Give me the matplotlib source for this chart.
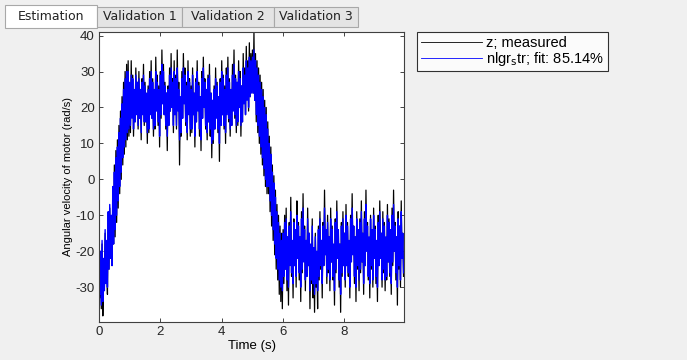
import matplotlib
matplotlib.use("Agg")
import matplotlib.pyplot as plt
from matplotlib.patches import Rectangle
from matplotlib.lines import Line2D
import numpy as np

dt = 0.025
z_measured = [
    -20, -33, -24, -36, -18, -38, -26, -30, -15, -28, -22, -32, -10, -25, -8, -20, -14, -24, -6, -18,
    4, -16, 8, -12, 11, -8, 15, -4, 19, 0, 23, 4, 27, 7, 30, 9, 32, 11, 33, 12,
    26, 13, 33, 18, 29, 12, 24, 16, 31, 20, 27, 14, 30, 17, 25, 11, 28, 19, 32, 15,
    27, 16, 23, 10, 26, 13, 30, 19, 33, 17, 28, 12, 25, 14, 34, 21, 29, 15, 26, 9,
    30, 17, 36, 22, 32, 18, 27, 14, 24, 8, 26, 15, 31, 19, 35, 20, 28, 13, 33, 18,
    29, 14, 36, 20, 27, 4, 22, 12, 30, 17, 35, 22, 31, 15, 27, 11, 33, 19, 28, 12,
    26, 13, 31, 18, 24, 9, 28, 16, 33, 20, 27, 12, 23, 8, 30, 17, 34, 21, 28, 14,
    25, 11, 29, 16, 32, 12, 24, 6, 21, 10, 26, 14, 31, 18, 27, 13, 23, 5, 28, 15,
    33, 18, 29, 14, 26, 10, 31, 19, 34, 16, 28, 12, 25, 15, 32, 20, 36, 17, 29, 13,
    27, 15, 33, 21, 30, 12, 26, 16, 35, 22, 31, 18, 37, 24, 33, 19, 38, 23, 35, 26,
    36, 24, 41, 22, 35, 16, 33, 13, 31, 10, 29, 7, 27, 4, 25, 1, 22, -2, 20, -4,
    16, -4, 12, -9, 9, -13, 4, -17, 1, -21, -3, -25, -7, -28, -10, -32, -13, -34, -15, -36,
    -14, -29, -10, -25, -8, -31, -16, -35, -12, -22, -5, -27, -18, -33, -11, -24, -14, -30, -6, -21,
    -12, -28, -16, -34, -9, -26, -4, -22, -13, -31, -17, -27, -8, -24, -15, -36, -19, -29, -11, -33,
    -20, -37, -15, -30, -22, -36, -13, -28, -9, -25, -17, -33, -12, -24, -3, -20, -14, -29, -10, -26,
    -16, -31, -8, -23, -13, -28, -19, -35, -11, -26, -6, -22, -14, -30, -18, -37, -12, -27, -9, -24,
    -15, -30, -7, -24, -12, -27, -18, -33, -10, -22, -4, -20, -13, -29, -16, -34, -9, -25, -14, -31,
    -11, -26, -6, -23, -15, -32, -9, -24, -3, -19, -12, -28, -17, -33, -10, -25, -14, -30, -8, -22,
    -13, -29, -18, -34, -10, -24, -6, -21, -15, -30, -9, -26, -12, -31, -17, -28, -7, -23, -11, -27,
    -14, -32, -8, -24, -3, -20, -12, -28, -16, -35, -9, -25, -13, -30, -6, -22, -15, -27,
]
nlgr_str = [
    -16, -32, -20, -35, -17, -34, -22, -31, -14, -29, -17, -30, -9, -25, -7, -22, -10, -24, -2, -18,
    2, -14, 6, -10, 9, -6, 13, -2, 17, 2, 21, 6, 25, 9, 28, 11, 30, 13, 30, 14,
    27, 15, 29, 17, 28, 14, 25, 16, 29, 18, 27, 15, 28, 17, 25, 13, 27, 18, 29, 16,
    26, 16, 24, 13, 25, 14, 28, 18, 30, 17, 27, 14, 25, 15, 30, 19, 27, 16, 25, 12,
    29, 18, 32, 21, 30, 18, 26, 15, 24, 12, 25, 15, 29, 19, 31, 20, 27, 15, 30, 18,
    28, 15, 31, 19, 25, 11, 23, 13, 28, 17, 31, 21, 29, 16, 26, 13, 30, 18, 27, 14,
    25, 14, 29, 18, 24, 12, 27, 16, 30, 19, 26, 14, 23, 11, 28, 17, 31, 20, 27, 15,
    25, 13, 28, 16, 29, 14, 24, 10, 22, 11, 25, 14, 28, 17, 26, 14, 23, 10, 27, 15,
    30, 18, 28, 15, 25, 13, 29, 18, 31, 17, 27, 14, 25, 15, 29, 19, 32, 18, 28, 15,
    27, 16, 30, 20, 28, 15, 26, 16, 31, 21, 29, 18, 33, 22, 31, 20, 34, 23, 33, 24,
    34, 24, 36, 22, 33, 18, 31, 15, 29, 12, 27, 9, 25, 6, 23, 3, 20, 0, 18, -2,
    14, -2, 10, -6, 7, -10, 2, -14, -1, -18, -5, -22, -9, -25, -12, -28, -15, -30, -17, -31,
    -15, -27, -12, -25, -11, -28, -16, -30, -13, -24, -9, -26, -17, -29, -12, -24, -14, -27, -10, -22,
    -13, -26, -16, -30, -11, -25, -8, -23, -14, -28, -17, -27, -11, -24, -15, -31, -18, -28, -13, -29,
    -19, -32, -16, -29, -20, -31, -14, -27, -11, -24, -17, -29, -13, -24, -8, -21, -14, -27, -12, -25,
    -16, -28, -11, -23, -14, -27, -18, -31, -12, -25, -9, -22, -14, -28, -18, -32, -13, -26, -11, -24,
    -15, -28, -10, -24, -13, -26, -17, -30, -11, -23, -8, -21, -13, -27, -16, -30, -11, -24, -14, -28,
    -12, -25, -9, -23, -15, -29, -11, -24, -7, -20, -13, -27, -16, -29, -11, -24, -14, -28, -10, -22,
    -14, -27, -17, -30, -12, -24, -9, -22, -15, -28, -11, -25, -13, -28, -16, -27, -10, -23, -12, -26,
    -14, -29, -10, -23, -7, -20, -13, -26, -16, -30, -11, -24, -13, -28, -9, -22, -15, -26,
]
tab_names = ["Estimation", "Validation 1", "Validation 2", "Validation 3"]
legend_labels = ["z; measured", r"nlgr$_{\mathrm{s}}$tr; fit: 85.14%"]
x_ticks = [0, 2, 4, 6, 8]
y_ticks = [-30, -20, -10, 0, 10, 20, 30, 40]

plt.rcParams["font.family"] = ["Liberation Sans", "DejaVu Sans"]
plt.rcParams["axes.unicode_minus"] = False

W, H = 687, 360
fig = plt.figure(figsize=(W / 100, H / 100), dpi=100, facecolor="#f0f0f0")

# tab strip at the top
tab_boxes = [(5, 97), (97, 182), (182, 274), (274, 358)]
for k, (name, (x0, x1)) in enumerate(zip(tab_names, tab_boxes)):
    if k == 0:
        y0, y1, fc = 5, 28, "white"
    else:
        y0, y1, fc = 7, 27, "#e4e4e4"
    fig.patches.append(Rectangle((x0 / W, 1 - y1 / H), (x1 - x0) / W, (y1 - y0) / H,
                                 transform=fig.transFigure, facecolor=fc,
                                 edgecolor="#a8a8a8", linewidth=0.8))
    fig.text((x0 + x1) / 2 / W, 1 - 17 / H, name, ha="center", va="center",
             fontsize=9, family="DejaVu Sans", color="#222222")

ax = fig.add_axes([99 / W, 1 - 322 / H, 305 / W, 290 / H])
ax.set_facecolor("white")
t = np.arange(len(z_measured)) * dt
ax.plot(t, z_measured, color="black", linewidth=0.9)
ax.plot(t, nlgr_str, color="#0000ff", linewidth=1.0)

ax.set_xlim(0, 9.94)
ax.set_ylim(-39.7, 41)
ax.set_xticks(x_ticks)
ax.set_yticks(y_ticks)
ax.tick_params(direction="in", length=3, top=True, right=True, labelsize=9.5,
               colors="#262626", width=0.6, pad=3)
for s in ax.spines.values():
    s.set_color("#404040")
    s.set_linewidth(0.8)
ax.set_xlabel("Time (s)", fontsize=9.5, labelpad=1)
ax.set_ylabel("Angular velocity of motor (rad/s)", fontsize=8, labelpad=2)

handles = [Line2D([], [], color="black", linewidth=0.6),
           Line2D([], [], color="#0000ff", linewidth=0.6)]
leg = fig.legend(handles, legend_labels, loc="upper left",
                 bbox_to_anchor=(417 / W, 1 - 32 / H), fontsize=10.5,
                 handlelength=4.2, handletextpad=0.3, borderpad=0.25,
                 labelspacing=0.0, frameon=True, fancybox=False,
                 borderaxespad=0)
leg.get_frame().set_edgecolor("black")
leg.get_frame().set_linewidth(0.8)

fig.savefig("out.png", dpi=100, facecolor=fig.get_facecolor())
